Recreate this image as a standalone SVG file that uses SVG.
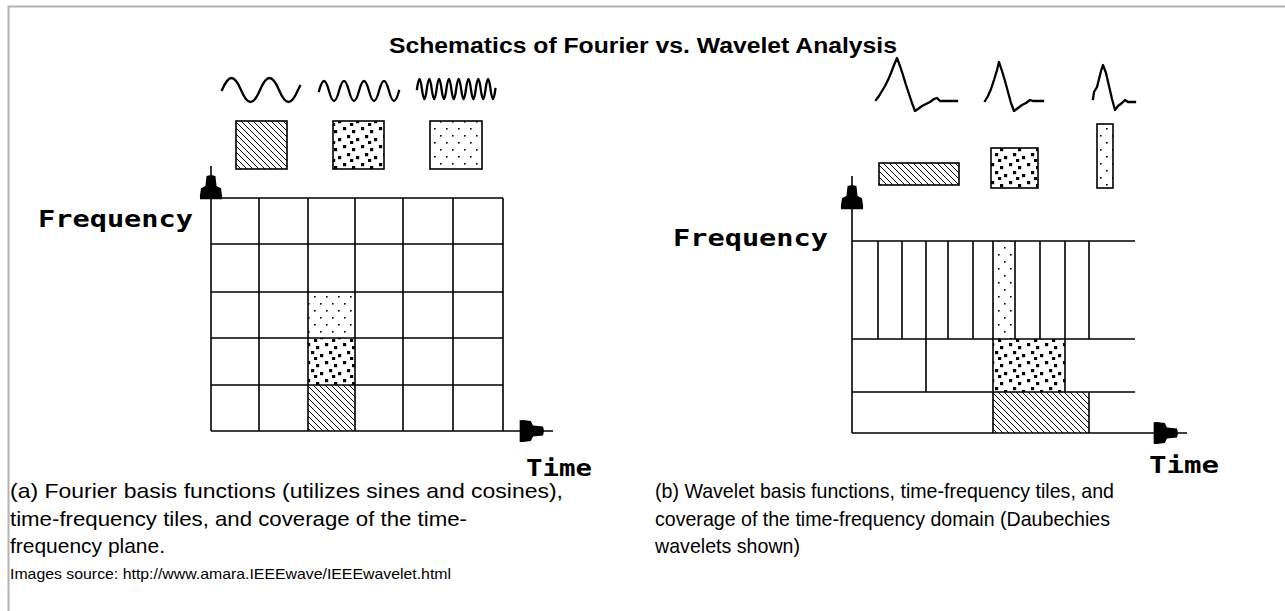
<svg xmlns="http://www.w3.org/2000/svg" width="1285" height="611" viewBox="0 0 1285 611">
<style>
.ln{stroke:#000;stroke-width:1.6;fill:none}
.wv{stroke:#000;stroke-width:2.3;fill:none;stroke-linejoin:round;stroke-linecap:square}
.tile{stroke:#000;stroke-width:1.6}
.ax{stroke:#000;stroke-width:1.6;fill:none;marker-end:url(#arr)}
.lab{font-family:"DejaVu Sans Mono","Liberation Mono",monospace;font-weight:bold;font-size:23px;fill:#000}
.cap{font-family:"Liberation Sans","DejaVu Sans",sans-serif;font-size:21px;fill:#000}
.src{font-family:"Liberation Sans","DejaVu Sans",sans-serif;font-size:15px;fill:#000}
.ttl{font-family:"Liberation Sans","DejaVu Sans",sans-serif;font-size:22px;font-weight:bold;fill:#000}
</style>
<defs>
<pattern id="hatch" patternUnits="userSpaceOnUse" width="6" height="6">
<path d="M-1,-1 L7,7 M5,-1 L7,1 M-1,5 L1,7" stroke="#000" stroke-width="1"/>
</pattern>
<pattern id="fine" patternUnits="userSpaceOnUse" width="12" height="14">
<rect x="2" y="2" width="1.6" height="1.6" fill="#000"/>
<rect x="8" y="9" width="1.6" height="1.6" fill="#000"/>
</pattern>
<pattern id="coarse" patternUnits="userSpaceOnUse" width="18" height="18">
<rect x="1" y="1" width="3.2" height="3.2" fill="#000"/>
<rect x="10" y="4" width="3.2" height="3.2" fill="#000"/>
<rect x="5" y="9" width="3.2" height="3.2" fill="#000"/>
<rect x="14" y="12" width="3.2" height="3.2" fill="#000"/>
<rect x="8" y="15" width="3.2" height="3.2" fill="#000"/>
</pattern>
<marker id="arr" markerUnits="userSpaceOnUse" orient="auto" markerWidth="40" markerHeight="30" refX="0" refY="0" viewBox="-34 -12 36 24" overflow="visible">
<path d="M-30,-9 Q-31,-10 -27,-10 L-20,-9 L-18,-5 L-9,-4 L-8,0 L-9,4 L-18,5 L-20,9 L-27,10 Q-31,10 -30,9 Z" fill="#000"/>
</marker>
</defs>
<rect width="1285" height="611" fill="#fff"/>
<path d="M8.5,611 V6.5 H1285" fill="none" stroke="#b3b3b3" stroke-width="2"/>

<g id="title">
<text class="ttl" x="643" y="53" text-anchor="middle" textLength="508" lengthAdjust="spacingAndGlyphs">Schematics of Fourier vs. Wavelet Analysis</text>
</g>

<g id="fourier-waves">
<path class="wv" d="M222,90 c6.8,-16 12.2,-16 19,0 c6.8,16 12.2,16 19,0 c6.8,-16 12.2,-16 19,0 c6.8,16 12.2,16 19,0 l2,-4"/>
<path class="wv" d="M319,91 c3.6,-13.3 6.4,-13.3 10,0 c3.6,13.3 6.4,13.3 10,0 c3.6,-13.3 6.4,-13.3 10,0 c3.6,13.3 6.4,13.3 10,0 c3.6,-13.3 6.4,-13.3 10,0 c3.6,13.3 6.4,13.3 10,0 c3.6,-13.3 6.4,-13.3 10,0 c3.6,13.3 6.4,13.3 10,0"/>
<path class="wv" d="M417,89 c1.8,-13.3 3.2,-13.3 4.9,0 c1.8,13.3 3.2,13.3 4.9,0 c1.8,-13.3 3.2,-13.3 4.9,0 c1.8,13.3 3.2,13.3 4.9,0 c1.8,-13.3 3.2,-13.3 4.9,0 c1.8,13.3 3.2,13.3 4.9,0 c1.8,-13.3 3.2,-13.3 4.9,0 c1.8,13.3 3.2,13.3 4.9,0 c1.8,-13.3 3.2,-13.3 4.9,0 c1.8,13.3 3.2,13.3 4.9,0 c1.8,-13.3 3.2,-13.3 4.9,0 c1.8,13.3 3.2,13.3 4.9,0 c1.8,-13.3 3.2,-13.3 4.9,0 c1.8,13.3 3.2,13.3 4.9,0 c1.8,-13.3 3.2,-13.3 4.9,0 c1.8,13.3 3.2,13.3 4.9,0"/>
</g>

<g id="fourier-tiles">
<rect class="tile" x="236" y="121" width="51" height="48" fill="url(#hatch)"/>
<rect class="tile" x="333" y="121" width="51" height="48" fill="url(#coarse)"/>
<rect class="tile" x="430" y="121" width="52" height="48" fill="url(#fine)"/>
</g>

<g id="fourier-grid">
<rect x="308" y="292" width="47" height="46" fill="url(#fine)"/>
<rect x="308" y="338" width="47" height="47" fill="url(#coarse)"/>
<rect x="308" y="385" width="47" height="46" fill="url(#hatch)"/>
<path class="ln" d="M211,198 H503 M211,244 H503 M211,292 H503 M211,338 H503 M211,385 H503 M259,198 V431 M308,198 V431 M355,198 V431 M403,198 V431 M453,198 V431 M503,198 V431"/>
<text class="lab" x="38" y="227" textLength="155" lengthAdjust="spacingAndGlyphs">Frequency</text>
<text class="lab" x="526" y="476" textLength="66" lengthAdjust="spacingAndGlyphs">Time</text>
</g>

<g id="wavelet-waves">
<path class="wv" d="M876,100 L879,96 L882,91 L885,86 L888,80 L891,73 L894,65 L897,58 L900,66 L903,75 L906,85 L909,94 L912,103 L915,111 L918,109 L922,106 L926,104 L930,102 L934,99 L937,98 L940,101 L957,101"/>
<path class="wv" d="M985,101 L988,96 L991,89 L994,80 L997,70 L999,62 L1002,71 L1005,81 L1008,92 L1011,103 L1014,111 L1018,108 L1022,105 L1026,103 L1030,100 L1033,101 L1043,101"/>
<path class="wv" d="M1093,99 L1094,92 L1097,87 L1099,79 L1101,71 L1103,65 L1106,73 L1109,86 L1112,99 L1115,110 L1118,106 L1122,103 L1125,100 L1128,102 L1135,102"/>
</g>

<g id="wavelet-tiles">
<rect class="tile" x="879" y="163" width="80" height="22" fill="url(#hatch)"/>
<rect class="tile" x="991" y="148" width="47" height="40" fill="url(#coarse)"/>
<rect class="tile" x="1097" y="124" width="16" height="64" fill="url(#fine)"/>
</g>

<g id="wavelet-grid">
<rect x="993" y="241" width="22" height="98" fill="url(#fine)"/>
<rect x="993" y="339" width="72" height="53" fill="url(#coarse)"/>
<rect x="993" y="392" width="96" height="41" fill="url(#hatch)"/>
<path class="ln" d="M852,241 H1135 M852,339 H1135 M852,392 H1135 M878,241 V339 M902,241 V339 M926,241 V392 M948,241 V339 M973,241 V339 M993,241 V433 M1015,241 V339 M1040,241 V339 M1065,241 V392 M1089,241 V339 M1089,392 V433"/>
<text class="lab" x="673" y="246" textLength="155" lengthAdjust="spacingAndGlyphs">Frequency</text>
<text class="lab" x="1149" y="473" textLength="70" lengthAdjust="spacingAndGlyphs">Time</text>
</g>

<g id="axes">
<path class="ax" d="M211,431 V166"/>
<path class="ax" d="M211,431 H553"/>
<path class="ax" d="M852,433 V176"/>
<path class="ax" d="M852,433 H1187"/>
</g>

<g id="captions">
<text class="cap" x="10" y="498" textLength="553" lengthAdjust="spacingAndGlyphs">(a) Fourier basis functions (utilizes sines and cosines),</text>
<text class="cap" x="10" y="526" textLength="457" lengthAdjust="spacingAndGlyphs">time-frequency tiles, and coverage of the time-</text>
<text class="cap" x="10" y="553" textLength="155" lengthAdjust="spacingAndGlyphs">frequency plane.</text>
<text class="src" x="10" y="579" textLength="441" lengthAdjust="spacingAndGlyphs">Images source: http://www.amara.IEEEwave/IEEEwavelet.html</text>
<text class="cap" x="655" y="498" textLength="459" lengthAdjust="spacingAndGlyphs">(b) Wavelet basis functions, time-frequency tiles, and</text>
<text class="cap" x="655" y="526" textLength="455" lengthAdjust="spacingAndGlyphs">coverage of the time-frequency domain (Daubechies</text>
<text class="cap" x="655" y="553" textLength="145" lengthAdjust="spacingAndGlyphs">wavelets shown)</text>
</g>
</svg>
